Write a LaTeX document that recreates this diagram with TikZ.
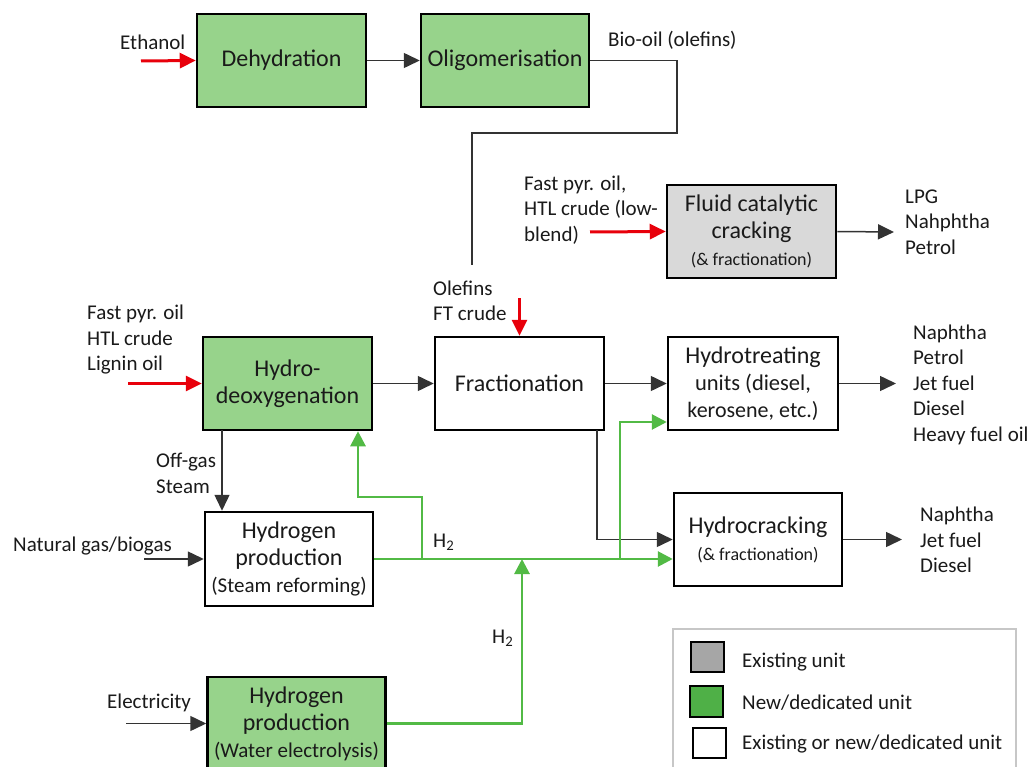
\documentclass[tikz,border=0pt]{standalone}
\usepackage{fontspec}
\setmainfont{Carlito}
\usetikzlibrary{arrows.meta}
\definecolor{boxgreen}{HTML}{97D38B}
\definecolor{boxgray}{HTML}{D9D9D9}
\definecolor{leggray}{HTML}{A6A6A6}
\definecolor{leggreen}{HTML}{4FB047}
\definecolor{flowgreen}{HTML}{52BA45}
\definecolor{flowred}{HTML}{E8000B}
\definecolor{linegray}{HTML}{333333}
\definecolor{txt}{HTML}{1A1A1A}
\tikzset{
  unit/.style={draw=black, line width=2.5pt, minimum height=93pt, minimum width=169pt, inner sep=0pt, align=center, text=txt, font=\fontsize{24}{27}\selectfont},
  greenunit/.style={unit, fill=boxgreen},
  grayunit/.style={unit, fill=boxgray},
  whiteunit/.style={unit, fill=white},
  lbl/.style={inner sep=0pt, align=left, anchor=west, text=txt, font=\fontsize{21}{25.5}\selectfont},
  blk/.style={draw=linegray, line width=1.5pt, -{Triangle[length=16pt,width=15pt]}},
  blkline/.style={draw=linegray, line width=1.5pt},
  redarr/.style={draw=flowred, line width=3pt, -{Triangle[length=16pt,width=15pt]}},
  grnarr/.style={draw=flowgreen, line width=2.8pt, -{Triangle[length=15pt,width=15pt]}},
  grnline/.style={draw=flowgreen, line width=2.8pt},
}
\newcommand{\sm}[1]{{\fontsize{21}{27}\selectfont #1}}
\newcommand{\xs}[1]{{\fontsize{18}{25}\selectfont #1}}
\begin{document}
\begin{tikzpicture}[x=1pt,y=-1pt]
\clip (0,0) rectangle (1033,767);
\fill[white] (0,0) rectangle (1033,767);

% units
\node[greenunit] (deh) at (281.5,60.5) {Dehydration};
\node[greenunit, minimum width=168pt] (olig) at (505,60.5) {Oligomerisation};
\node[grayunit] (fcc) at (751.5,231.5) {Fluid catalytic\\cracking\\\xs{(\& fractionation)}};
\node[greenunit] (hdo) at (287.5,383.5) {Hydro-\\deoxygenation};
\node[whiteunit] (frac) at (519.5,383.5) {Fractionation};
\node[whiteunit, minimum width=170pt] (ht) at (753,383.5) {Hydrotreating\\{\fontsize{22.5}{27}\selectfont units (diesel,}\\{\fontsize{22}{27}\selectfont kerosene, etc.)}};
\node[whiteunit, minimum width=168pt] (hc) at (758,539.5) {Hydrocracking\\\xs{(\& fractionation)}};
\node[whiteunit, minimum width=168pt, minimum height=94pt] (sr) at (289,559) {Hydrogen\\production\\\sm{(Steam reforming)}};
\node[greenunit, minimum width=178pt] (we) at (296.5,723.5) {Hydrogen\\production\\\sm{(Water electrolysis)}};

% labels
\node[lbl] (lEth) at (120,42) {Ethanol};
\node[lbl] (lBio) at (608,40) {Bio-oil (olefins)};
\node[lbl] (lFcc) at (524,210) {Fast pyr. oil,\\HTL crude (low-\\blend)};
\node[lbl] (lFccOut) at (905,222) {LPG\\Nahphtha\\Petrol};
\node[lbl] (lOlef) at (433,301) {Olefins\\FT crude};
\node[lbl] (lHdo) at (87,340) {Fast pyr. oil\\HTL crude\\Lignin oil};
\node[lbl] (lHtOut) at (913,384.5) {Naphtha\\Petrol\\Jet fuel\\Diesel\\Heavy fuel oil};
\node[lbl] (lOff) at (156,473.5) {Off-gas\\Steam};
\node[lbl] (lNat) at (13,546) {Natural gas/biogas};
\node[lbl] (lH2a) at (433,542) {H\textsubscript{2}};
\node[lbl] (lHcOut) at (920,540) {Naphtha\\Jet fuel\\Diesel};
\node[lbl] (lH2b) at (492,638) {H\textsubscript{2}};
\node[lbl] (lElec) at (107,703) {Electricity};

% coordinates
\coordinate (ethS) at (141,61);
\coordinate (bioC) at (677,133);
\coordinate (bioE) at (472,265);
\coordinate (fccS) at (590,232);
\coordinate (fccO) at (894,232);
\coordinate (frS) at (519.5,298);
\coordinate (hdoS) at (128,383.5);
\coordinate (htO) at (896,383.5);
\coordinate (offS) at (222,430);
\coordinate (natS) at (144,559);
\coordinate (frB) at (597,430);
\coordinate (hcO) at (902,539.5);
\coordinate (gb1) at (422,559);
\coordinate (gb2) at (358,497);
\coordinate (gb3) at (620,559);
\coordinate (gb4) at (620,422);
\coordinate (gj) at (522,559);
\coordinate (elS) at (126,723.5);

% connectors
\draw[redarr] (ethS) -- (deh.west);
\draw[blk] (deh.east) -- (olig.west);
\draw[blkline] (olig.east) -| (bioC) -| (bioE);
\draw[redarr] (fccS) -- (fcc.west);
\draw[blk] (fcc.east) -- (fccO);
\draw[redarr] (frS) -- (frac.north);
\draw[redarr] (hdoS) -- (hdo.west);
\draw[blk] (hdo.east) -- (frac.west);
\draw[blk] (frac.east) -- (ht.west);
\draw[blk] (ht.east) -- (htO);
\draw[blk] (offS) -- (offS |- sr.north);
\draw[blk] (natS) -- (sr.west);
\draw[blk] (frB) |- (hc.west);
\draw[blk] (hc.east) -- (hcO);
\draw[blk] (elS) -- (we.west);
\draw[grnarr] (sr.east) -- (sr.east -| hc.west);
\draw[grnarr] (gb1) |- (gb2) -- (gb2 |- hdo.south);
\draw[grnarr] (gb3) -- (gb4) -- (gb4 -| ht.west);
\draw[grnarr] (we.east) -| (gj);

% legend
\node[draw=boxgray!80!gray, line width=1.6pt, minimum width=343pt, minimum height=160pt, inner sep=0pt] (leg) at (844.5,709) {};
\node[draw=black, line width=2pt, fill=leggray, minimum width=33pt, minimum height=30pt, inner sep=0pt] (legA) at (707.5,657) {};
\node[draw=black, line width=2pt, fill=leggreen, minimum width=33pt, minimum height=31pt, inner sep=0pt] (legB) at (706.5,701.5) {};
\node[draw=black, line width=2pt, fill=white, minimum width=33pt, minimum height=30pt, inner sep=0pt] (legC) at (709.5,743) {};
\node[lbl] (legAt) at (742,662) {Existing unit};
\node[lbl] (legBt) at (742,703) {New/dedicated unit};
\node[lbl] (legCt) at (742,744) {Existing or new/dedicated unit};
\end{tikzpicture}
\end{document}
